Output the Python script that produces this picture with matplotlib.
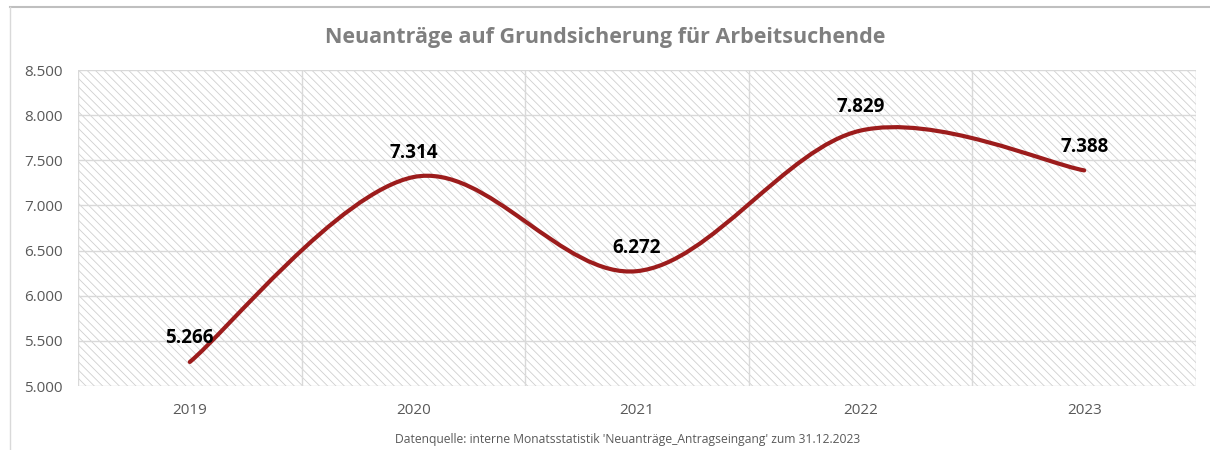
import matplotlib
matplotlib.use("Agg")
import matplotlib.pyplot as plt
from matplotlib.path import Path
from matplotlib.patches import PathPatch, Rectangle
from matplotlib.lines import Line2D
from matplotlib.ticker import FuncFormatter
import numpy as np

years = ["2019", "2020", "2021", "2022", "2023"]
values = [5266, 7314, 6272, 7829, 7388]
yticks = [5000, 5500, 6000, 6500, 7000, 7500, 8000, 8500]
title = "Neuanträge auf Grundsicherung für Arbeitsuchende"
source = "Datenquelle: interne Monatsstatistik 'Neuanträge_Antragseingang' zum 31.12.2023"

plt.rcParams['font.family'] = ['Open Sans', 'DejaVu Sans']
plt.rcParams['hatch.linewidth'] = 0.6

fig = plt.figure(figsize=(12.1, 4.5), dpi=100)
ax = fig.add_axes([78/1210, 1-386/450, (1196-78)/1210, (386-70)/450])

x = np.arange(len(values))
ax.set_xlim(-0.5, len(values)-0.5)
ax.set_ylim(yticks[0], yticks[-1])

# hatched background
ax.add_patch(Rectangle((0, 0), 1, 1, transform=ax.transAxes, facecolor='white',
                       edgecolor='#d0d0d0', lw=0, hatch='\\\\\\\\', zorder=0))

# gridlines
ax.set_yticks(yticks)
for yv in yticks:
    ax.axhline(yv, color='#d9d9d9', lw=1.0, zorder=1)
for xv in np.arange(-0.5, len(values), 1.0):
    ax.axvline(xv, color='#d9d9d9', lw=1.0, zorder=1)
for s in ax.spines.values():
    s.set_visible(False)

# smoothed line (Excel-like Catmull-Rom bezier)
pts = np.column_stack([x, values]).astype(float)
ext = np.vstack([pts[0], pts, pts[-1]])
verts = [tuple(pts[0])]
codes = [Path.MOVETO]
for i in range(len(pts)-1):
    p0, p1, p2, p3 = ext[i], ext[i+1], ext[i+2], ext[i+3]
    c1 = p1 + (p2 - p0) / 6.0
    c2 = p2 - (p3 - p1) / 6.0
    verts += [tuple(c1), tuple(c2), tuple(p2)]
    codes += [Path.CURVE4]*3
ax.add_patch(PathPatch(Path(verts, codes), facecolor='none', edgecolor='#9c1c1c',
                       lw=3, capstyle='round', joinstyle='round', zorder=3))

def de(v):
    return f"{v:,.0f}".replace(",", ".")

for xi, v in zip(x, values):
    ax.annotate(de(v), (xi, v), xytext=(0, 17), textcoords='offset points',
                ha='center', va='center', fontsize=13.5, fontweight='bold', color='black', zorder=4)

ax.set_xticks(x)
ax.set_xticklabels(years)
ax.yaxis.set_major_formatter(FuncFormatter(lambda v, p: de(v)))
ax.tick_params(axis='both', length=0, labelsize=11, labelcolor='#595959')
ax.tick_params(axis='y', pad=11)
ax.tick_params(axis='x', pad=12)

fig.text(0.5, 1-37/450, title, ha='center', va='center', fontsize=15.5,
         fontweight='bold', color='#7f7f7f')
fig.text(628/1210, 1-440/450, source, ha='center', va='center', fontsize=8.7, color='#595959')

# outer chart frame (top and left)
fig.add_artist(Line2D([10/1210, 1.0], [1-7/450, 1-7/450], color='#bfbfbf', lw=1.5, transform=fig.transFigure))
fig.add_artist(Line2D([10/1210, 10/1210], [1-7/450, 0], color='#d9d9d9', lw=1.0, transform=fig.transFigure))

fig.savefig("out.png", dpi=100)
